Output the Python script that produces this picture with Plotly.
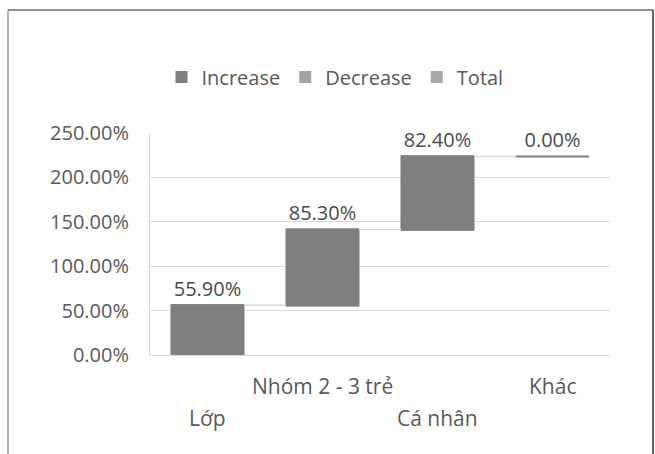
import plotly.graph_objects as go

# Waterfall data (percent units)
categories = ["Lớp", "Nhóm 2 - 3 trẻ", "Cá nhân", "Khác"]
values = [55.9, 85.3, 82.4, 0.0]
measures = ["relative", "relative", "relative", "relative"]
legend_names = ["Increase", "Decrease", "Total"]
legend_colors = ["#7f7f7f", "#a3a3a3", "#a9a9a9"]
label_rows = [1, 0, 1, 0]  # staggered category labels: 0 = upper row, 1 = lower row

FONT = "Open Sans"
TXT = "#595959"
GAP = 0.365

W, H = 655, 454
L, R, T, B = 150, 45, 133, 99
pw, ph = W - L - R, H - T - B

def px_x(p):
    return (p - L) / pw

def px_y(p):
    return (H - B - p) / ph

fig = go.Figure()
fig.add_trace(go.Waterfall(
    x=categories,
    y=values,
    measure=measures,
    text=[f"{v:.2f}%" for v in values],
    textposition="outside",
    textfont=dict(family=FONT, size=20, color="#4a4a4a"),
    increasing=dict(marker=dict(color="#7f7f7f", line=dict(color="#7f7f7f", width=1))),
    decreasing=dict(marker=dict(color="#a3a3a3")),
    totals=dict(marker=dict(color="#a9a9a9")),
    connector=dict(line=dict(color="#d9d9d9", width=1.5)),
    cliponaxis=False,
    showlegend=False,
))

for name, col in zip(legend_names, legend_colors):
    fig.add_trace(go.Scatter(
        x=[None], y=[None], mode="markers", name=name,
        marker=dict(symbol="square", size=13, color=col),
    ))

# zero-height steps drawn as a flat line at the running total
running = 0.0
for idx, v in enumerate(values):
    running += v
    if v == 0:
        half = (1 - GAP) / 2
        fig.add_shape(type="line", xref="x", yref="y",
                      x0=idx - half, x1=idx + half, y0=running, y1=running,
                      line=dict(color="#7f7f7f", width=2))

# staggered category labels
for c, row in zip(categories, label_rows):
    fig.add_annotation(x=c, xref="x", y=px_y(386 + 32 * row), yref="paper",
                       text=c, showarrow=False, xanchor="center", yanchor="middle",
                       font=dict(family=FONT, size=21, color=TXT))

# outer frame
fig.add_shape(type="line", xref="paper", yref="paper",
              x0=px_x(8), x1=px_x(653), y0=px_y(10), y1=px_y(10),
              line=dict(color="#8f8f8f", width=2))
fig.add_shape(type="line", xref="paper", yref="paper",
              x0=px_x(8), x1=px_x(8), y0=px_y(10), y1=px_y(470),
              line=dict(color="#6a6a6a", width=1))
fig.add_shape(type="line", xref="paper", yref="paper",
              x0=px_x(653), x1=px_x(653), y0=px_y(10), y1=px_y(470),
              line=dict(color="#333333", width=1.5))

fig.update_layout(
    width=W, height=H,
    margin=dict(l=L, r=R, t=T, b=B, pad=0),
    paper_bgcolor="white", plot_bgcolor="white",
    font=dict(family=FONT, size=20, color=TXT),
    waterfallgap=GAP,
    showlegend=True,
    legend=dict(orientation="h", x=px_x(335), y=px_y(77), xanchor="center", yanchor="middle",
                font=dict(family=FONT, size=20, color=TXT), itemsizing="constant",
                bgcolor="rgba(0,0,0,0)", itemwidth=30),
    xaxis=dict(showticklabels=False, showgrid=False, showline=True, linecolor="#d9d9d9",
               linewidth=1, ticks="", zeroline=False, fixedrange=True),
    yaxis=dict(range=[0, 250], dtick=50, tickformat=".2f", ticksuffix="%",
               showgrid=True, gridcolor="#d9d9d9", gridwidth=1, showline=True,
               linecolor="#d9d9d9", zeroline=False, ticks="",
               tickfont=dict(family=FONT, size=20, color=TXT), ticklabelstandoff=16),
)

fig.write_html("out.html")
